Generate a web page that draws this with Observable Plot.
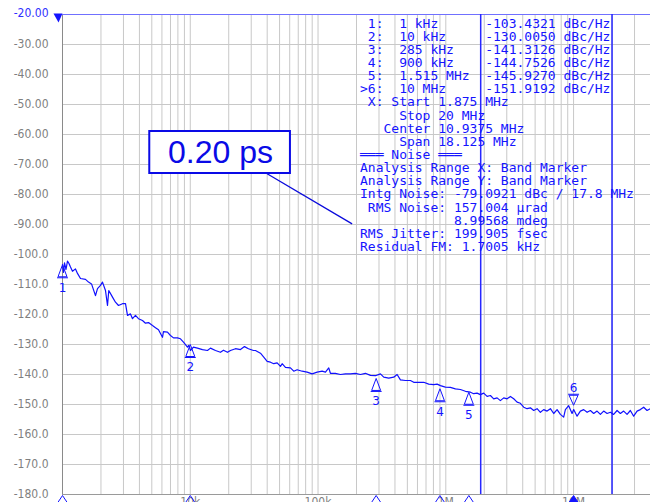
<!DOCTYPE html>
<html><head><meta charset="utf-8">
<script src="https://cdn.jsdelivr.net/npm/d3@7"></script>
<script src="https://cdn.jsdelivr.net/npm/@observablehq/plot@0.6"></script>
<style>
html,body{margin:0;padding:0;background:#fff;overflow:hidden;}
#chart svg{overflow:visible;}
</style></head><body><div id="chart"></div>
<script>
// ---- data ----
const freqHz = [1000,1018,1037,1065,1094,1124,1155,1197,1264,1310,1383,1514,1598,1687,1812,1879,1983,2056,2170,2250,2303,2462,2598,2743,2948,3112,3226,3405,3530,3725,3932,4227,4462,4710,5061,5343,5640,6060,6170,6630,7000,7390,7940,8380,8850,9510,9730,10040,10590,11380,12460,13630,14390,15750,17230,18190,19550,20630,22590,24710,26560,28540,31230,
32370,35430,37590,39970,42420,45020,47860,50790,52370,55580,60810,64540,68620,75080,82160,89900,98400,107700,114300,121300,125000,136800,149700,163900,179300,196200,214700,234900,257000,281200,307800,326700,357500,391200,415800,441400,483000,528500,560900,613700,671600,734900,804200,855200,
907700,992900,1086000,1189000,1301000,1424000,1558000,1653000,1757000,1865000,1980000,2105000,2234000,2371000,2520000,2674000,2839000,3018000,3203000,3400000,3614000,3835000,4070000,4327000,4592000,4874000,5181000,5499000,5837000,6205000,6585000,6988000,7430000,7884000,8366000,8627000,9156000,9734000,10020000,10650000,11300000,12000000,12760000,13540000,14370000,15270000,16210000,17200000,18290000,19410000,20600000,21900000,23240000,24660000,26220000,27820000,29530000,31400000,33320000,35370000,37600000,39900000];
const phaseNoise = [-103.4,-106,-102.8,-105,-102.2,-103,-104.2,-105.6,-104.8,-106.3,-108,-108.3,-109.2,-109.8,-113.7,-111.4,-110.3,-109.2,-112,-117,-112,-114.2,-115.9,-117,-116.4,-116.4,-120.3,-119.8,-121.4,-120.3,-121.4,-122,-122.9,-122.7,-123.7,-124.4,-125.1,-127.6,-125.7,-125.9,-127,-127.8,-127.8,-128.1,-129.2,-130.9,-130.3,-132,-130.9,-131.2,-131.7,-132,-131.2,-132,-132.6,-131.9,-132.6,-132,-131.4,-131.7,-130.7,-131.4,-132,
-132,-132.9,-134.2,-135.6,-135.9,-136.4,-136.1,-137.3,-136.4,-137.6,-137.8,-138.9,-138.4,-138.9,-139.2,-139.8,-139.2,-138.9,-139.2,-137.8,-139.6,-139.6,-140,-139.8,-139.8,-139.6,-140,-139.6,-140.3,-140.4,-139.8,-140.9,-141.2,-140.9,-140,-141.8,-142,-142,-142.6,-142.6,-142.6,-143.2,-143.4,-143.2,
-143.7,-144.2,-144.3,-144.8,-145,-145.6,-145.9,-146.4,-146.2,-146.7,-146.2,-147.3,-147,-148.1,-147.8,-148.7,-147.8,-148.1,-147.3,-148.1,-149.2,-149.6,-150.9,-151.4,-151.1,-152,-151.4,-152.6,-151.7,-152.2,-151.4,-153,-151.7,-153.3,-154.2,-151.7,-150.4,-153,-151.7,-153.9,-152.2,-151.7,-152.6,-152,-153,-152.2,-153.3,-152.2,-153,-152.6,-153.3,-152,-153,-152.2,-153.3,-152,-153.9,-152.2,-151.7,-150.9,-152,-151.4];

const markerIds = ["1","2","3","4","5","6"];
const markerFreqHz = [1e3, 1e4, 2.85e5, 9e5, 1.515e6, 1e7];
const markerDbc = [-103.4321, -130.0050, -141.3126, -144.7526, -145.9270, -151.9192];
const bandEdgesHz = [1.875e6, 2e7];

const yTicks = [-30,-40,-50,-60,-70,-80,-90,-100,-110,-120,-130,-140,-150,-160,-170,-180];
const xTickValues = [1e4, 1e5, 1e6, 1e7];
const xTickLabels = ["10k", "100k", "1M", "10M"];

const tableLines = [
  " 1:  1 kHz      -103.4321 dBc/Hz",
  " 2:  10 kHz     -130.0050 dBc/Hz",
  " 3:  285 kHz    -141.3126 dBc/Hz",
  " 4:  900 kHz    -144.7526 dBc/Hz",
  " 5:  1.515 MHz  -145.9270 dBc/Hz",
  ">6:  10 MHz     -151.9192 dBc/Hz",
  " X: Start 1.875 MHz",
  "     Stop 20 MHz",
  "   Center 10.9375 MHz",
  "     Span 18.125 MHz",
  "═══ Noise ═══",
  "Analysis Range X: Band Marker",
  "Analysis Range Y: Band Marker",
  "Intg Noise: -79.0921 dBc / 17.8 MHz",
  " RMS Noise: 157.004 µrad",
  "            8.99568 mdeg",
  "RMS Jitter: 199.905 fsec",
  "Residual FM: 1.7005 kHz"
];
const jitterLabel = "0.20 ps";

// annotation placement (data coordinates)
const tableAt = {f: 2.13e5, db: -21.3};
const boxAt = {x1: 4820, x2: 60810, y1: -59, y2: -73};
const labelAt = {f: 17230, db: -66};
const leaderAt = {x1: 39970, y1: -73.1, x2: 184800, y2: -89.8};

// ---- build ----
const BLUE = "#1414ff";
const trace = freqHz.map((f, i) => ({f, v: phaseNoise[i]}));
const markers = markerIds.map((id, i) => ({id, f: markerFreqHz[i], v: markerDbc[i]}));
const passive = markers.slice(0, 5);
const active = markers.slice(5);
const gridFreqs = d3.range(3, 8).flatMap(e => d3.range(1, 10).map(m => m * 10 ** e)).filter(f => f > 1e3 && f <= 4e7);
const gridDb = yTicks.filter(d => d > -180);

const triUp = {draw(ctx) { ctx.moveTo(0, 0); ctx.lineTo(-4.5, 12); ctx.lineTo(4.5, 12); ctx.closePath(); ctx.moveTo(-5.5, 13); ctx.lineTo(5.5, 13); }};
const triDown = {draw(ctx) { ctx.moveTo(0, 0); ctx.lineTo(-4.5, -10); ctx.lineTo(4.5, -10); ctx.closePath(); ctx.moveTo(-5.5, -11); ctx.lineTo(5.5, -11); }};
const chevron = {draw(ctx) { ctx.moveTo(0, 0); ctx.lineTo(-6, 9); ctx.lineTo(6, 9); ctx.closePath(); }};
const refMark = {draw(ctx) { ctx.moveTo(-9, -1); ctx.lineTo(0, -1); ctx.lineTo(-4, 8); ctx.closePath(); }};

const fmtY = d => d > -100 ? d.toFixed(2) : d.toFixed(1);
const axisFont = "DejaVu Sans Condensed, Liberation Sans, sans-serif";

const plot = Plot.plot({
  width: 650, height: 502,
  marginLeft: 62, marginRight: 0, marginTop: 14, marginBottom: 8,
  style: {background: "#fff", fontFamily: axisFont, fontSize: "12px"},
  x: {type: "log", domain: [1e3, 4e7], axis: null},
  y: {domain: [-180, -20], axis: null},
  marks: [
    Plot.ruleX(gridFreqs, {stroke: "#c8c8c8", strokeWidth: 1}),
    Plot.ruleY(gridDb, {stroke: "#c8c8c8", strokeWidth: 1}),
    Plot.ruleX([1e3], {stroke: "#8a8a8a", strokeWidth: 1}),
    Plot.ruleY([-180], {stroke: "#9a9a9a", strokeWidth: 1}),
    Plot.ruleY([-20], {stroke: "#7070ff", strokeWidth: 1}),
    Plot.axisY(yTicks, {anchor: "left", tickSize: 0, tickPadding: 14, tickFormat: fmtY, fill: "#7f7f7f", fontSize: 12, fontFamily: axisFont}),
    Plot.text([fmtY(-20)], {x: 1e3, y: -20, dx: -14, dy: -1, textAnchor: "end", fill: "#3030ff", fontSize: 12, fontFamily: axisFont}),
    Plot.axisX(xTickValues, {anchor: "bottom", tickSize: 0, tickPadding: 3, tickFormat: d => xTickLabels[xTickValues.indexOf(d)], fill: "#7f7f7f", fontSize: 12, fontFamily: axisFont}),
    Plot.ruleX(bandEdgesHz, {stroke: "#2626ff", strokeWidth: 1.5}),
    Plot.text([tableLines.join("\n")], {x: tableAt.f, y: tableAt.db, textAnchor: "start", lineAnchor: "top", lineHeight: 1.01, fontFamily: "DejaVu Sans Mono", fontSize: 13, fill: BLUE}),
    Plot.line(trace, {x: "f", y: "v", stroke: "#1010ff", strokeWidth: 1.2}),
    Plot.dot(passive, {x: "f", y: "v", symbol: triUp, r: 5, stroke: BLUE, fill: "none", strokeWidth: 1}),
    Plot.text(passive, {x: "f", y: "v", text: "id", dy: 23, fill: BLUE, fontSize: 12, fontFamily: "DejaVu Sans"}),
    Plot.dot(active, {x: "f", y: "v", symbol: triDown, r: 5, dy: -5, stroke: BLUE, fill: "none", strokeWidth: 1}),
    Plot.text(active, {x: "f", y: "v", text: "id", dy: -22, fill: BLUE, fontSize: 12, fontFamily: "DejaVu Sans"}),
    Plot.dot(passive, {x: "f", y: -180, symbol: chevron, r: 5, dy: 1, stroke: BLUE, fill: "none", strokeWidth: 1}),
    Plot.dot(active, {x: "f", y: -180, symbol: chevron, r: 5, dy: 1, stroke: BLUE, fill: BLUE, strokeWidth: 1}),
    Plot.dot([0], {x: 1e3, y: -20, symbol: refMark, r: 5, fill: BLUE, stroke: "none"}),
    Plot.link([leaderAt], {x1: "x1", y1: "y1", x2: "x2", y2: "y2", stroke: "#0a0adc", strokeWidth: 1.3}),
    Plot.rect([boxAt], {x1: "x1", x2: "x2", y1: "y1", y2: "y2", fill: "#fff", stroke: "#0a0ae6", strokeWidth: 2}),
    Plot.text([jitterLabel], {x: labelAt.f, y: labelAt.db, fill: "#0a0ae6", fontSize: 32, fontFamily: "Liberation Sans, Arial, sans-serif"})
  ]
});
document.getElementById("chart").appendChild(plot);
</script></body></html>
